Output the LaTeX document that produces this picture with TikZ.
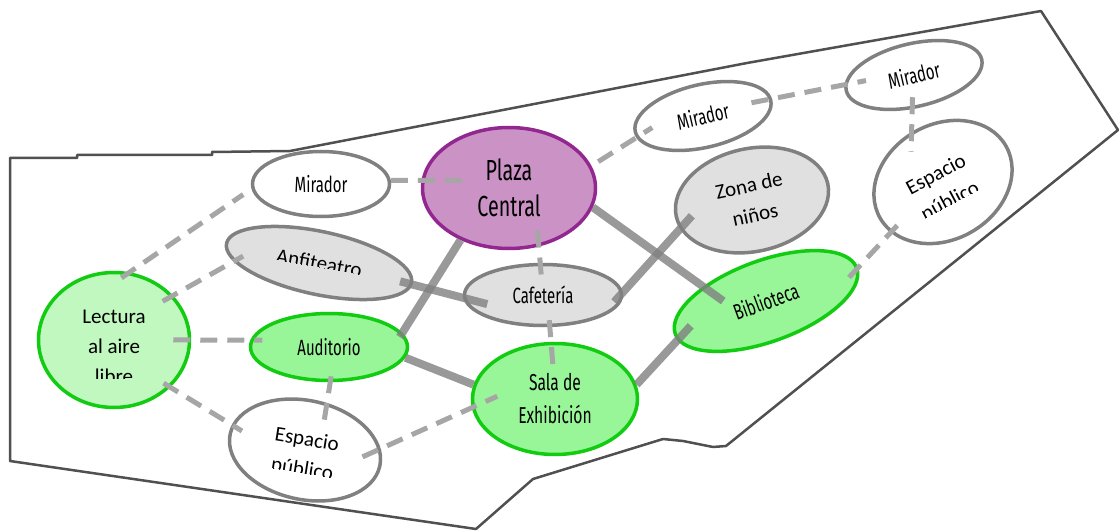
\documentclass[tikz,border=0pt]{standalone}
\usepackage{fontspec}
\setmainfont{Carlito}
\newfontfamily\narrowfont[FakeStretch=0.68]{Fira Sans}
\usetikzlibrary{shapes.geometric}

\definecolor{edgegray}{RGB}{128,128,128}
\definecolor{dashgray}{RGB}{166,166,166}
\definecolor{zonegreen}{RGB}{152,245,152}
\definecolor{palegreen}{RGB}{192,248,192}
\definecolor{linegreen}{RGB}{17,204,17}
\definecolor{plazafill}{RGB}{203,147,197}
\definecolor{plazaline}{RGB}{146,40,143}
\definecolor{zonegray}{RGB}{224,224,224}
\definecolor{sitegray}{RGB}{80,80,80}

\begin{document}
\begin{tikzpicture}[x=1pt,y=-1pt,
  area/.style={ellipse,draw=edgegray,line width=3.5pt,fill=white,inner sep=0pt,align=center},
  green area/.style={area,draw=linegreen,fill=zonegreen},
  gray area/.style={area,fill=zonegray},
  cond/.style={font=\narrowfont\fontsize{22}{30}\selectfont},
  open/.style={font=\fontsize{21}{30}\selectfont},
  link/.style={draw=edgegray,line width=8pt,draw opacity=0.8},
  walk/.style={draw=dashgray,line width=5pt,dash pattern=on 17pt off 10pt}]
\useasboundingbox (0,0) rectangle (1120,532);
\draw[sitegray,line width=2.5pt,line join=round] (10,158) -- (77,158) -- (77,155) -- (212,155) -- (212,152) -- (290,151) -- (747,63) -- (1041,11) -- (1118,130) -- (726,446) -- (713,447) -- (683,441) -- (663,439) -- (533,479) -- (476,529) -- (373,514) -- (10,461) -- cycle;

\node[area,fill=palegreen,draw=linegreen,minimum width=151pt,minimum height=135pt] (lectura) at (114,340) {};
\node[area,cond,minimum width=137pt,minimum height=65pt] (mirador1) at (321,184) {Mirador};
\node[gray area,minimum width=189pt,minimum height=63pt,rotate=-12] (anfiteatro) at (319,263) {};
\node[area,draw=plazaline,fill=plazafill,font=\narrowfont\fontsize{29}{36}\selectfont,minimum width=173pt,minimum height=121pt] (plaza) at (509,188) {Plaza\\Central};
\node[gray area,cond,minimum width=157pt,minimum height=61pt] (cafe) at (543,295) {Cafetería};
\node[green area,cond,minimum width=157pt,minimum height=67pt] (auditorio) at (329,347) {Auditorio};
\node[area,minimum width=153pt,minimum height=99pt,rotate=-12] (espacio1) at (305,450) {};
\node[green area,font=\narrowfont\fontsize{23}{33}\selectfont,minimum width=165pt,minimum height=111pt] (sala) at (555,399) {Sala de\\Exhibición};
\node[area,cond,minimum width=139pt,minimum height=63pt,rotate=13] (mirador2) at (703,116) {Mirador};
\node[gray area,open,minimum width=155pt,minimum height=103pt,rotate=12] (zona) at (752,200) {Zona de\\niños};
\node[area,cond,minimum width=139pt,minimum height=63pt,rotate=13] (mirador3) at (914,75) {Mirador};
\node[area,minimum width=145pt,minimum height=115pt,rotate=30] (espacio2) at (943,182) {};
\node[green area,cond,minimum width=193pt,minimum height=81pt,rotate=20] (biblioteca) at (766,301) {Biblioteca};

\begin{scope}
\clip (30,265) rectangle (200,378);
\node[open,anchor=base] (lectura1) at (114,323) {Lectura};
\node[open,anchor=base] (lectura2) at (114,353) {al aire};
\node[open,anchor=base] (lectura3) at (114,383) {libre};
\end{scope}
\begin{scope}[shift={(318,270)},rotate=-10]
\clip (-100,-30) rectangle (100,-3);
\node[open,anchor=base,rotate=-10] (anfiteatro1) at (0,0) {Anfiteatro};
\end{scope}
\begin{scope}[shift={(306,446)},rotate=-9]
\clip (-80,-25) rectangle (80,27);
\node[open,anchor=base,rotate=-9] (espacio1a) at (0,0) {Espacio};
\node[open,anchor=base,rotate=-9] (espacio1b) at (0,30) {público};
\end{scope}
\begin{scope}[shift={(939,180)},rotate=28]
\clip (-80,-25) rectangle (80,27);
\node[open,anchor=base,rotate=28] (espacio2a) at (0,0) {Espacio};
\node[open,anchor=base,rotate=28] (espacio2b) at (0,30) {público};
\end{scope}

\path (plaza.347) edge[link,shorten >=-25pt] (biblioteca.147)
   (plaza.227) edge[link,shorten >=-5pt] (auditorio.11)
   (anfiteatro.359) edge[link,shorten <=-13pt,shorten >=-25pt] (cafe.182)
   (cafe.2) edge[link,shorten <=-13pt,shorten >=-18pt] (zona.190)
   (auditorio.352) edge[link] (sala.170)
   (sala.10) edge[link,shorten >=-20pt] (biblioteca.184)
   (mirador1.3) edge[walk,shorten >=-51pt] (plaza.175)
   (lectura.77) edge[walk,shorten <=-10pt,shorten >=10pt] (mirador1.184)
   (lectura.37) edge[walk,shorten <=-12pt,shorten >=-11pt] (anfiteatro.191)
   (lectura.0) edge[walk,shorten <=-18pt,shorten >=-12pt] (auditorio.175)
   (lectura.320) edge[walk,shorten <=-8pt,shorten >=-12pt] (espacio1.173)
   (auditorio.272) edge[walk,shorten <=-6pt,shorten >=-17pt] (espacio1.77)
   (espacio1.13) edge[walk,shorten <=-20pt,shorten >=-28pt] (sala.186)
   (plaza.297) edge[walk,shorten <=-16pt,shorten >=-12pt] (cafe.95)
   (cafe.282) edge[walk,shorten <=-7pt,shorten >=-23pt] (sala.94)
   (plaza.15) edge[walk,shorten <=8pt,shorten >=-19pt] (mirador2.185)
   (mirador2.1) edge[walk,shorten <=-21pt,shorten >=-22pt] (mirador3.175)
   (mirador3.254) edge[walk,shorten <=-12pt,shorten >=-20pt] (espacio2.92)
   (espacio2.194) edge[walk,shorten <=-10pt,shorten >=-16pt] (biblioteca.0)
;
\end{tikzpicture}
\end{document}
